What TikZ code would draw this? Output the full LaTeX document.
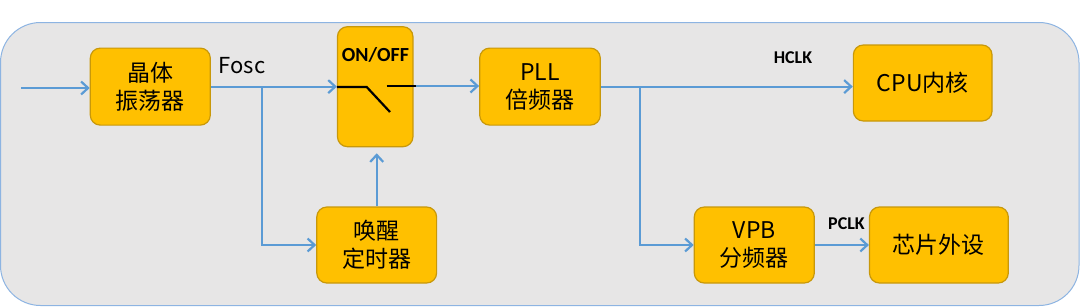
\documentclass[tikz,border=0pt]{standalone}
\usepackage{fontspec}
\setmainfont{Noto Sans CJK SC}
\newfontfamily\labfont{Carlito}
\usetikzlibrary{arrows.meta}
\definecolor{boxfill}{HTML}{FFC000}
\definecolor{boxline}{HTML}{C8980A}
\definecolor{bgfill}{HTML}{E7E6E6}
\definecolor{bgline}{HTML}{8DB4E2}
\definecolor{arr}{HTML}{5B9BD5}
\begin{document}
\begin{tikzpicture}[x=1pt,y=-1pt,
  blk/.style={draw=boxline,fill=boxfill,line width=1.2pt,rounded corners=10pt,
    align=center,inner sep=0pt,font=\fontsize{23}{28}\selectfont},
  flow/.style={draw=arr,line width=2.2pt,-{Straight Barb[length=7pt,width=13pt,line width=2.2pt]}},
  sig/.style={font=\labfont\bfseries\fontsize{18}{20}\selectfont,inner sep=0pt},
  contact/.style={draw=black,line width=2.2pt}]
\useasboundingbox (0,0) rectangle (1080,306);
\draw[fill=bgfill,draw=bgline,line width=1pt,rounded corners=40pt] (0.5,22.5) rectangle (1079,305.5);
\node[blk,minimum width=120pt,minimum height=77pt] (osc) at (150.3,86.6) {晶体\\振荡器};
\node[blk,minimum width=75.5pt,minimum height=120pt] (sw) at (375.2,86.7) {};
\node[sig,font=\labfont\bfseries\fontsize{20}{22}\selectfont] (swlab) at (375.5,55) {ON/OFF};
\node[blk,minimum width=119.8pt,minimum height=76pt] (wake) at (376.7,245) {唤醒\\定时器};
\node[blk,minimum width=120.6pt,minimum height=77pt] (pll) at (540,86.6) {PLL\\倍频器};
\node[blk,minimum width=138.7pt,minimum height=76pt] (cpu) at (922.7,83) {CPU内核};
\node[blk,minimum width=120pt,minimum height=76pt] (vpb) at (754.3,245) {VPB\\分频器};
\node[blk,minimum width=138.8pt,minimum height=76pt] (per) at (938.9,245) {芯片外设};
\node[inner sep=0pt,font=\fontsize{22}{24}\selectfont] (fosc) at (242,66) {Fosc};
\node[sig] (hclk) at (793,58) {HCLK};
\node[sig] (pclk) at (846.5,224) {PCLK};
% switch contacts
\coordinate (c1) at (366.7,87);
\coordinate (c2) at (390,112);
\coordinate (c3) at (386.7,86);
\coordinate (c4) at (415.6,86);
\draw[contact] (sw.west |- c1) -- (c1) -- (c2);
\draw[contact] (c3) -- (c4);
% connectors
\coordinate (in) at (21,88);
\draw[flow] (in) -- (osc.west |- in);
\draw[flow] (osc.east) -- (osc.east -| sw.west);
\coordinate (b1) at (261.7,86.6);
\draw[flow] (b1) |- (wake.west);
\draw[flow,shorten >=6pt] (wake.north) -- (wake.north |- sw.south);
\draw[flow] (c4) -- (c4 -| pll.west);
\draw[flow] (pll.east) -- (pll.east -| cpu.west);
\coordinate (b2) at (640,86.6);
\draw[flow] (b2) |- (vpb.west);
\draw[flow] (vpb.east) -- (per.west);
\end{tikzpicture}
\end{document}
